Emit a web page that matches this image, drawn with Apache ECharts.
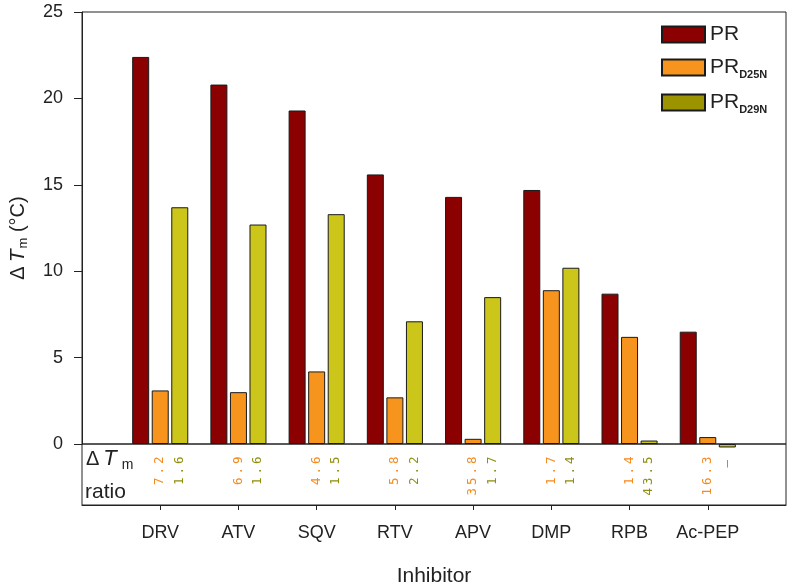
<!DOCTYPE html>
<html>
<head>
<meta charset="utf-8">
<script src="https://cdn.jsdelivr.net/npm/echarts@6/dist/echarts.min.js"></script>
<style>html,body{margin:0;padding:0;background:#fff}#c{width:792px;height:588px}</style>
</head>
<body>
<div id="c"></div>
<script>
const categories = ['DRV', 'ATV', 'SQV', 'RTV', 'APV', 'DMP', 'RPB', 'Ac-PEP'];
const prValues   = [22.4, 20.8, 19.3, 15.6, 14.3, 14.7, 8.7, 6.5];
const d25nValues = [3.1, 3.0, 4.2, 2.7, 0.3, 8.9, 6.2, 0.4];
const d29nValues = [13.7, 12.7, 13.3, 7.1, 8.5, 10.2, 0.2, -0.2];
const d25nRatio  = ['7.2', '6.9', '4.6', '5.8', '35.8', '1.7', '1.4', '16.3'];
const d29nRatio  = ['1.6', '1.6', '1.5', '2.2', '1.7', '1.4', '43.5', '–'];

const FONT = 'Liberation Sans, Arial, sans-serif';
const C_PR = '#8B0000', C_25 = '#F7941D', C_29 = '#CCC51A', C_29L = '#9B9300';
const C_25T = '#F58A1F', C_29T = '#8F8F12';

const axisCats = [''].concat(categories, ['']);
const pad = arr => [null].concat(arr, [null]);
const cells = s => s.split('').map(ch => '{c|' + ch + '}').join('');

const chart = echarts.init(document.getElementById('c'));

function ratioLabel(arr, color) {
  return {
    show: true, position: 'bottom', distance: 11, rotate: 90,
    align: 'right', verticalAlign: 'middle',
    formatter: p => cells(arr[p.dataIndex - 1]),
    rich: { c: { width: 10.5, align: 'center', fontFamily: 'DejaVu Sans Mono, monospace', fontSize: 12.5, color: color } }
  };
}
const barBase = { type: 'bar', barWidth: 17, barGap: '15%', clip: false,
  xAxisIndex: 0, yAxisIndex: 0,
  itemStyle: { borderColor: '#1a1a1a', borderWidth: 1 } };

chart.setOption({
  animation: false,
  textStyle: { fontFamily: FONT },
  grid: [
    { left: 82, top: 12, width: 704, height: 432, show: true, borderColor: '#222', borderWidth: 1, backgroundColor: 'transparent' },
    { left: 82, top: 444, width: 704, height: 61, show: true, borderColor: '#222', borderWidth: 1, backgroundColor: 'transparent' }
  ],
  xAxis: [
    { type: 'category', gridIndex: 0, data: axisCats, boundaryGap: false, show: false },
    { type: 'category', gridIndex: 1, data: axisCats, boundaryGap: false,
      axisLine: { lineStyle: { color: '#222' } },
      axisTick: { length: 5, inside: false, interval: (i) => i > 0 && i < axisCats.length - 1, lineStyle: { color: '#222' } },
      axisLabel: { interval: 0, margin: 19, fontSize: 18, color: '#222', fontFamily: FONT },
      name: 'Inhibitor', nameLocation: 'middle', nameGap: 61,
      nameTextStyle: { fontSize: 21, color: '#222', fontFamily: FONT } }
  ],
  yAxis: [
    { type: 'value', gridIndex: 0, min: 0, max: 25, interval: 5,
      axisLine: { show: true, lineStyle: { color: '#222' } },
      axisTick: { show: true, length: 8, lineStyle: { color: '#222' } },
      axisLabel: { margin: 19, fontSize: 18, color: '#222', fontFamily: FONT },
      splitLine: { show: false },
      name: '{a|Δ}{i|T}{s|m}{a| (°C)}', nameLocation: 'middle', nameGap: 52,
      nameTextStyle: { color: '#222', fontFamily: FONT, padding: [0, 20, 0, 0],
        rich: {
          a: { fontSize: 20, fontFamily: FONT, color: '#222' },
          i: { fontSize: 21, fontStyle: 'italic', fontFamily: FONT, color: '#222', padding: [0, 0, 0, 4] },
          s: { fontSize: 13, fontFamily: FONT, color: '#222', verticalAlign: 'bottom', padding: [10, 0, 0, 1] }
        } } },
    { type: 'value', gridIndex: 1, min: 0, max: 1, show: false }
  ],
  legend: {
    orient: 'vertical', left: 661, top: 24, itemWidth: 43, itemHeight: 16, itemGap: 12, padding: 0,
    icon: 'rect',
    formatter: n => n === 'PR' ? '{a|PR}' : '{a|PR}{s|' + n.slice(2) + '}',
    textStyle: { rich: {
      a: { fontSize: 21, fontFamily: FONT, color: '#222' },
      s: { fontSize: 11, fontWeight: 'bold', fontFamily: FONT, color: '#222', verticalAlign: 'bottom', padding: [14, 0, 0, 0] }
    } },
    data: [
      { name: 'PR' },
      { name: 'PRD25N' },
      { name: 'PRD29N', itemStyle: { color: C_29L } }
    ]
  },
  graphic: [
    { type: 'text', left: 86, top: 448, style: {
        text: '{a|Δ}{i|T}{s|m}',
        rich: {
          a: { fontSize: 20, fontFamily: FONT, fill: '#222' },
          i: { fontSize: 22, fontStyle: 'italic', fontFamily: FONT, fill: '#222', padding: [0, 0, 0, 4] },
          s: { fontSize: 14, fontFamily: FONT, fill: '#222', verticalAlign: 'bottom', padding: [12, 0, 0, 5] }
        } } },
    { type: 'text', left: 85, top: 482, style: { text: 'ratio', fontSize: 21, fontFamily: FONT, fill: '#222' } }
  ],
  series: [
    Object.assign({}, barBase, { name: 'PR', data: pad(prValues), itemStyle: Object.assign({}, barBase.itemStyle, { color: C_PR }) }),
    Object.assign({}, barBase, { name: 'PRD25N', data: pad(d25nValues), itemStyle: Object.assign({}, barBase.itemStyle, { color: C_25 }), label: ratioLabel(d25nRatio, C_25T) }),
    Object.assign({}, barBase, { name: 'PRD29N', data: pad(d29nValues), itemStyle: Object.assign({}, barBase.itemStyle, { color: C_29 }), label: ratioLabel(d29nRatio, C_29T) })
  ]
});
</script>
</body>
</html>
